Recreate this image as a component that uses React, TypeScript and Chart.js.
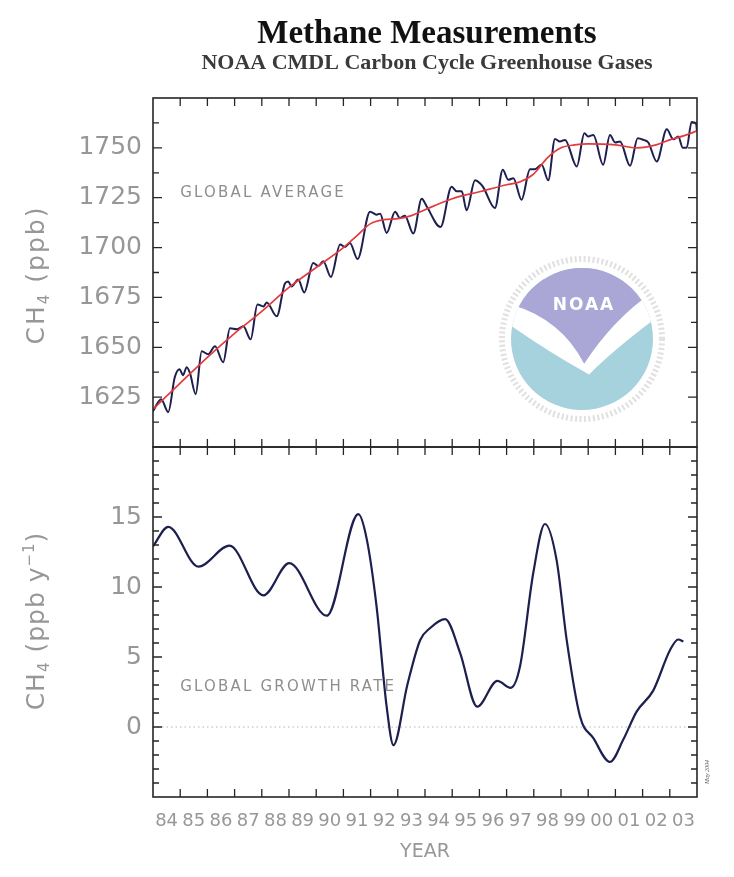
import React, { useEffect, useRef } from 'react';
import { Chart, registerables } from 'chart.js';

Chart.register(...registerables);

// ---------- data ----------
const globalYears = [
  1984.0, 1984.3, 1984.56, 1984.8, 1984.98, 1985.1, 1985.24, 1985.36, 1985.57, 1985.79,
  1986.03, 1986.28, 1986.58, 1986.83, 1987.08, 1987.32, 1987.59, 1987.84, 1988.06, 1988.18,
  1988.55, 1988.85, 1988.97, 1989.09, 1989.34, 1989.56, 1989.89, 1990.08, 1990.26, 1990.54,
  1990.88, 1991.06, 1991.24, 1991.52, 1991.98, 1992.22, 1992.35, 1992.59, 1992.9, 1993.08,
  1993.26, 1993.57, 1993.88, 1994.06, 1994.57, 1994.98, 1995.17, 1995.35, 1995.53, 1995.84,
  1996.02, 1996.14, 1996.57, 1996.86, 1997.06, 1997.25, 1997.55, 1997.86, 1998.04, 1998.29,
  1998.53, 1998.78, 1998.96, 1999.15, 1999.58, 1999.86, 2000.0, 2000.19, 2000.55, 2000.8,
  2000.99, 2001.17, 2001.54, 2001.82, 2002.03, 2002.21, 2002.52, 2002.89, 2003.13, 2003.31,
  2003.48, 2003.62, 2003.8, 2003.97, 2004.0,
];
const globalCH4 = [
  1618, 1624, 1617.5, 1635, 1639, 1636, 1640, 1637, 1626.5, 1648,
  1646.5, 1650.5, 1642.5, 1659.5, 1659, 1660.5, 1654, 1671.5, 1670.5, 1672.5,
  1665.5, 1682, 1683, 1680.5, 1684, 1677.5, 1692.3, 1690.7, 1693.2, 1685.3,
  1701.5, 1700.3, 1702.3, 1694.3, 1718, 1716.5, 1717, 1707.3, 1718, 1714.8,
  1716, 1707, 1724.5, 1720.7, 1710.3, 1730.5, 1728.2, 1728.2, 1718.7, 1733.7,
  1732.3, 1730.3, 1719.8, 1739, 1734, 1734.8, 1724, 1739.3, 1739.3, 1741.5,
  1733.7, 1754.5, 1753.2, 1754, 1740.7, 1757.3, 1755.7, 1756.5, 1741.5, 1756.5,
  1752.7, 1753.2, 1741, 1754.8, 1754, 1752.7, 1743.2, 1759.3, 1754.3, 1755.7,
  1750, 1750, 1763, 1762, 1758,
];

const trendYears = [
  1984.0, 1985.0, 1986.0, 1987.0, 1988.0, 1989.0, 1990.0, 1991.0, 1991.5, 1992.0,
  1992.5, 1993.0, 1993.5, 1994.0, 1995.0, 1996.0, 1997.0, 1997.5, 1998.0, 1998.5,
  1999.0, 1999.5, 2000.0, 2001.0, 2001.8, 2002.5, 2003.0, 2003.5, 2004.0,
];
const trendCH4 = [
  1619, 1632, 1645, 1657, 1668, 1680, 1690, 1700, 1706, 1712,
  1714, 1714.5, 1716, 1719, 1724.5, 1728, 1731.5, 1733, 1737, 1745,
  1750, 1751.5, 1752, 1751.5, 1750, 1751.5, 1754, 1756, 1758.5,
];

const growthYears = [
  1984.0, 1984.56, 1985.67, 1986.81, 1988.06, 1989.01, 1990.39, 1991.55, 1991.86, 1992.22,
  1992.59, 1992.84, 1993.35, 1993.82, 1994.18, 1994.74, 1995.29, 1995.92, 1996.66, 1997.15,
  1997.49, 1997.98, 1998.41, 1998.84, 1999.21, 1999.7, 2000.19, 2000.8, 2001.29, 2001.78,
  2002.39, 2003.01, 2003.31, 2003.5,
];
const growthRate = [
  12.9, 14.3, 11.45, 12.95, 9.4, 11.7, 7.95, 15.2, 13.4, 8.6,
  1.45, -1.3, 3.0, 6.2, 7.05, 7.7, 5.3, 1.45, 3.3, 2.8,
  4.3, 11.0, 14.5, 11.9, 6.2, 0.75, -0.8, -2.5, -0.9, 1.1,
  2.6, 5.5, 6.25, 6.1,
];

const zeroLineYears = [1984, 2004];
const zeroLineValues = [0, 0];

const yearLabels = ['84', '85', '86', '87', '88', '89', '90', '91', '92', '93',
  '94', '95', '96', '97', '98', '99', '00', '01', '02', '03'];
const topTickValues = [1625, 1650, 1675, 1700, 1725, 1750];
const bottomTickValues = [0, 5, 10, 15];

const X_MIN = 1984;
const X_MAX = 2004;

// ---------- styles ----------
const SANS = '"DejaVu Sans", "Liberation Sans", sans-serif';
const SERIF = '"Liberation Serif", "DejaVu Serif", serif';
const GRAY = '#979797';
const NAVY = '#1d1f4f';
const RED = '#e33a3e';

const pts = (xs: number[], ys: number[]) => xs.map((x, i) => ({ x, y: ys[i] }));

const noAxisPad = (s: any) => {
  s.paddingTop = 0;
  s.paddingBottom = 0;
  s.paddingLeft = 0;
  s.paddingRight = 0;
};

const framePlugin = {
  id: 'frame',
  afterDatasetsDraw(chart: any, _args: any, opts: any) {
    const { ctx, chartArea: a, scales } = chart;
    const xs = scales.x;
    const ys = scales.y;
    ctx.save();
    ctx.strokeStyle = '#262626';
    ctx.lineWidth = 1.6;
    ctx.strokeRect(a.left, a.top, a.right - a.left, a.bottom - a.top);
    ctx.lineWidth = 1.3;
    ctx.beginPath();
    for (let v = xs.min + 1; v < xs.max; v++) {
      const px = xs.getPixelForValue(v);
      ctx.moveTo(px, a.top);
      ctx.lineTo(px, a.top + 8);
      ctx.moveTo(px, a.bottom);
      ctx.lineTo(px, a.bottom - 8);
    }
    const n = Math.round((ys.max - ys.min) / opts.minor);
    for (let i = 1; i < n; i++) {
      const v = ys.min + i * opts.minor;
      const r = v / opts.major;
      const major = Math.abs(r - Math.round(r)) < 1e-6;
      const len = major ? 9 : 6;
      const py = ys.getPixelForValue(v);
      ctx.moveTo(a.left, py);
      ctx.lineTo(a.left + len, py);
      ctx.moveTo(a.right, py);
      ctx.lineTo(a.right - len, py);
    }
    ctx.stroke();
    ctx.restore();
  },
};

type Part = { text: string; size: number; dy: number };

function drawVerticalRich(ctx: any, parts: Part[], cx: number, cy: number, spacing: number) {
  ctx.save();
  ctx.translate(cx, cy);
  ctx.rotate(-Math.PI / 2);
  ctx.fillStyle = GRAY;
  ctx.textBaseline = 'alphabetic';
  ctx.textAlign = 'left';
  try { ctx.letterSpacing = spacing + 'px'; } catch (e) { /* ignore */ }
  const widths = parts.map((p) => {
    ctx.font = `${p.size}px ${SANS}`;
    return ctx.measureText(p.text).width;
  });
  const total = widths.reduce((s, w) => s + w, 0);
  let x = -total / 2;
  parts.forEach((p, i) => {
    ctx.font = `${p.size}px ${SANS}`;
    ctx.fillText(p.text, x, 9 + p.dy);
    x += widths[i];
  });
  ctx.restore();
}

function drawLabel(ctx: any, text: string, x: number, y: number, size: number, spacing: number) {
  ctx.save();
  ctx.fillStyle = '#8e8e8e';
  ctx.font = `${size}px ${SANS}`;
  ctx.textAlign = 'left';
  ctx.textBaseline = 'middle';
  try { ctx.letterSpacing = spacing + 'px'; } catch (e) { /* ignore */ }
  ctx.fillText(text, x, y);
  ctx.restore();
}

function drawLogo(ctx: any, cx: number, cy: number, r: number) {
  ctx.save();
  // faint outer ring (lettering)
  ctx.strokeStyle = '#e0e0e0';
  ctx.lineWidth = 6;
  ctx.setLineDash([2, 2.5]);
  ctx.beginPath();
  ctx.arc(cx, cy, r + 9, 0, Math.PI * 2);
  ctx.stroke();
  ctx.setLineDash([]);
  // disk
  ctx.beginPath();
  ctx.arc(cx, cy, r, 0, Math.PI * 2);
  ctx.fillStyle = '#a6d2dd';
  ctx.fill();
  ctx.save();
  ctx.beginPath();
  ctx.arc(cx, cy, r, 0, Math.PI * 2);
  ctx.clip();
  const P = (u: number, v: number) => [cx + u * r, cy + v * r];
  // white band (bird)
  ctx.beginPath();
  ctx.moveTo(...P(-1.05, -0.6));
  ctx.lineTo(...P(1.05, -0.85));
  ctx.lineTo(...P(1.05, -0.3));
  ctx.quadraticCurveTo(...P(0.45, 0.15), ...P(0.1, 0.5));
  ctx.quadraticCurveTo(...P(-0.45, 0.2), ...P(-1.05, -0.22));
  ctx.closePath();
  ctx.fillStyle = '#ffffff';
  ctx.fill();
  // lavender sky
  ctx.beginPath();
  ctx.moveTo(...P(-1.05, -1.05));
  ctx.lineTo(...P(1.05, -1.05));
  ctx.lineTo(...P(1.05, -0.7));
  ctx.quadraticCurveTo(...P(0.45, -0.3), ...P(0.03, 0.35));
  ctx.quadraticCurveTo(...P(-0.3, -0.3), ...P(-1.05, -0.5));
  ctx.closePath();
  ctx.fillStyle = '#aaa6d6';
  ctx.fill();
  ctx.restore();
  // NOAA text
  ctx.fillStyle = '#ffffff';
  ctx.font = `bold 17px ${SANS}`;
  ctx.textAlign = 'center';
  ctx.textBaseline = 'middle';
  try { ctx.letterSpacing = '2px'; } catch (e) { /* ignore */ }
  ctx.fillText('NOAA', cx + 2, cy - 0.47 * r);
  ctx.restore();
}

const topDecor = {
  id: 'topDecor',
  beforeDatasetsDraw(chart: any) {
    drawLogo(chart.ctx, 582, 339, 71);
  },
  afterDraw(chart: any) {
    const { ctx, scales } = chart;
    ctx.save();
    ctx.fillStyle = '#111';
    ctx.textAlign = 'center';
    ctx.textBaseline = 'alphabetic';
    ctx.font = `bold 33px ${SERIF}`;
    ctx.fillText('Methane Measurements', 427, 43);
    ctx.fillStyle = '#3a3a3a';
    ctx.font = `bold 22px ${SERIF}`;
    ctx.fillText('NOAA CMDL Carbon Cycle Greenhouse Gases', 427, 69);
    ctx.restore();
    drawVerticalRich(ctx, [
      { text: 'CH', size: 25, dy: 0 },
      { text: '4', size: 15, dy: 5 },
      { text: ' (ppb)', size: 25, dy: 0 },
    ], 35, 275, 2);
    drawLabel(ctx, 'GLOBAL AVERAGE', scales.x.getPixelForValue(1985), scales.y.getPixelForValue(1727.5), 15, 2.2);
  },
};

const bottomDecor = {
  id: 'bottomDecor',
  afterDraw(chart: any) {
    const { ctx, chartArea: a, scales } = chart;
    drawVerticalRich(ctx, [
      { text: 'CH', size: 25, dy: 0 },
      { text: '4', size: 15, dy: 5 },
      { text: ' (ppb y', size: 25, dy: 0 },
      { text: '\u22121', size: 15, dy: -10 },
      { text: ')', size: 25, dy: 0 },
    ], 35, 621 - 440, 1);
    drawLabel(ctx, 'GLOBAL GROWTH RATE', scales.x.getPixelForValue(1985), scales.y.getPixelForValue(2.86), 15, 2.2);
    ctx.save();
    ctx.fillStyle = GRAY;
    ctx.font = `19px ${SANS}`;
    ctx.textAlign = 'center';
    ctx.textBaseline = 'middle';
    ctx.fillText('YEAR', (a.left + a.right) / 2, a.bottom + 55);
    ctx.restore();
    ctx.save();
    ctx.translate(a.right + 10, a.bottom - 25);
    ctx.rotate(-Math.PI / 2);
    ctx.fillStyle = '#555';
    ctx.font = `italic 6px ${SERIF}`;
    ctx.textAlign = 'center';
    ctx.textBaseline = 'middle';
    ctx.fillText('May 2004', 0, 0);
    ctx.restore();
  },
};

export default function App() {
  const topRef = useRef<HTMLCanvasElement>(null);
  const botRef = useRef<HTMLCanvasElement>(null);

  useEffect(() => {
    document.body.style.margin = '0';
    const tickFont = { family: SANS, size: 25 };

    const top = new Chart(topRef.current as HTMLCanvasElement, {
      type: 'line',
      data: {
        datasets: [
          {
            data: pts(trendYears, trendCH4),
            borderColor: RED,
            borderWidth: 1.7,
            pointRadius: 0,
            cubicInterpolationMode: 'monotone',
          },
          {
            data: pts(globalYears, globalCH4),
            borderColor: NAVY,
            borderWidth: 2,
            pointRadius: 0,
            cubicInterpolationMode: 'monotone',
          },
        ],
      } as any,
      options: {
        responsive: false,
        animation: false,
        devicePixelRatio: 1,
        layout: { padding: { top: 98, right: 37, bottom: 13, left: 0 } },
        plugins: {
          legend: { display: false },
          tooltip: { enabled: false },
          frame: { minor: 12.5, major: 25 },
        } as any,
        scales: {
          x: {
            type: 'linear',
            min: X_MIN,
            max: X_MAX,
            display: false,
          },
          y: {
            type: 'linear',
            min: 1600,
            max: 1775,
            position: 'left',
            afterFit: (s: any) => { s.width = 153; noAxisPad(s); },
            afterBuildTicks: (s: any) => { s.ticks = topTickValues.map((v) => ({ value: v })); },
            grid: { display: false, drawTicks: false },
            border: { display: false },
            ticks: { font: tickFont, color: GRAY, padding: 11, callback: (v: any) => String(v) },
          },
        },
      } as any,
      plugins: [framePlugin, topDecor],
    });

    const bottom = new Chart(botRef.current as HTMLCanvasElement, {
      type: 'line',
      data: {
        datasets: [
          {
            data: pts(growthYears, growthRate),
            borderColor: NAVY,
            borderWidth: 2.2,
            pointRadius: 0,
            cubicInterpolationMode: 'monotone',
          },
          {
            data: pts(zeroLineYears, zeroLineValues),
            borderColor: '#b5b5b5',
            borderWidth: 1,
            borderDash: [1.5, 3],
            pointRadius: 0,
          },
        ],
      } as any,
      options: {
        responsive: false,
        animation: false,
        devicePixelRatio: 1,
        layout: { padding: { top: 7, right: 37, bottom: 0, left: 0 } },
        plugins: {
          legend: { display: false },
          tooltip: { enabled: false },
          frame: { minor: 1, major: 5 },
        } as any,
        scales: {
          x: {
            type: 'linear',
            min: X_MIN,
            max: X_MAX,
            position: 'bottom',
            afterFit: (s: any) => { s.height = 80; noAxisPad(s); },
            afterBuildTicks: (s: any) => { s.ticks = yearLabels.map((_, i) => ({ value: X_MIN + 0.5 + i })); },
            grid: { display: false, drawTicks: false },
            border: { display: false },
            ticks: {
              font: { family: SANS, size: 18 },
              color: GRAY,
              padding: 14,
              autoSkip: false,
              maxRotation: 0,
              minRotation: 0,
              callback: (_v: any, i: number) => yearLabels[i],
            },
          },
          y: {
            type: 'linear',
            min: -5,
            max: 20,
            position: 'left',
            afterFit: (s: any) => { s.width = 153; noAxisPad(s); },
            afterBuildTicks: (s: any) => { s.ticks = bottomTickValues.map((v) => ({ value: v })); },
            grid: { display: false, drawTicks: false },
            border: { display: false },
            ticks: { font: tickFont, color: GRAY, padding: 11, callback: (v: any) => String(v) },
          },
        },
      } as any,
      plugins: [framePlugin, bottomDecor],
    });

    return () => {
      top.destroy();
      bottom.destroy();
    };
  }, []);

  return (
    <div style={{ position: 'absolute', left: 0, top: 0, width: 734, height: 877, background: '#ffffff' }}>
      <canvas ref={topRef} width={734} height={460} style={{ position: 'absolute', left: 0, top: 0 }} />
      <canvas ref={botRef} width={734} height={437} style={{ position: 'absolute', left: 0, top: 440 }} />
    </div>
  );
}
